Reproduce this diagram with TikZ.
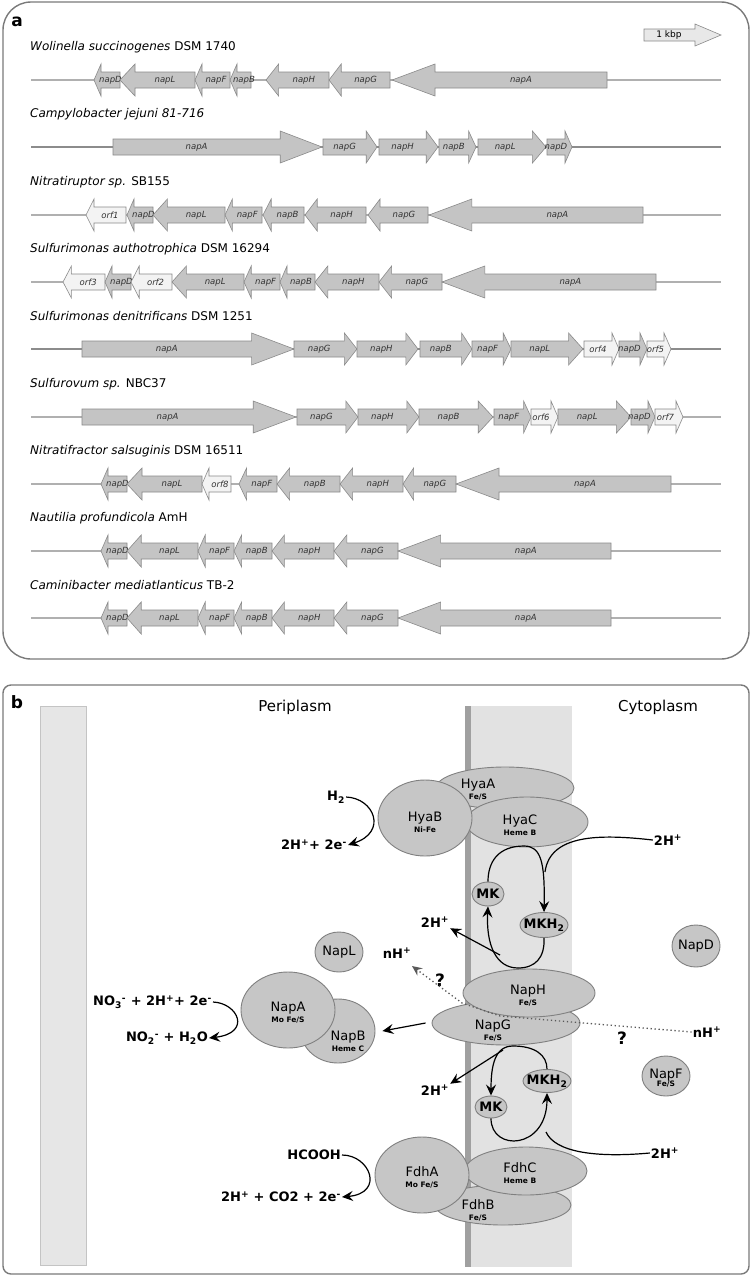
\documentclass[tikz,border=0pt]{standalone}
\usepackage{fontspec}
\setmainfont{DejaVu Sans}
\usetikzlibrary{arrows.meta,shapes.geometric}
\definecolor{panelgray}{HTML}{7A7A7A}
\definecolor{trackgray}{HTML}{B0B0B0}
\definecolor{trackdark}{HTML}{8C8C8C}
\definecolor{genefill}{HTML}{C4C4C4}
\definecolor{orffill}{HTML}{F3F3F3}
\definecolor{genedraw}{HTML}{8A8A8A}
\definecolor{labgray}{HTML}{333333}
\definecolor{scalefill}{HTML}{E8E8E8}
\definecolor{protfill}{HTML}{C6C6C6}
\definecolor{protdraw}{HTML}{808080}
\definecolor{outerband}{HTML}{E6E6E6}
\definecolor{outerline}{HTML}{C4C4C4}
\definecolor{bandlight}{HTML}{E2E2E2}
\definecolor{banddark}{HTML}{A0A0A0}
\newcommand\protsub[1]{{\fontsize{7.5}{8}\selectfont\bfseries #1}}
\newcommand\drawgene[7]{%
  \pgfmathsetmacro\gh{max(0.2*(#2-#1),7)}%
  \ifnum#4=1
    \pgfmathsetmacro\gb{#2-\gh}%
    \pgfmathsetmacro\gc{(#1+\gb)/2}%
    \filldraw[genebox,fill=#6] (#1,#3-8) -- (\gb,#3-8) -- (\gb,#3-16) -- (#2,#3) -- (\gb,#3+16) -- (\gb,#3+8) -- (#1,#3+8) -- cycle;
  \else
    \pgfmathsetmacro\gb{#1+\gh}%
    \pgfmathsetmacro\gc{(#2+\gb)/2}%
    \filldraw[genebox,fill=#6] (#2,#3-8) -- (\gb,#3-8) -- (\gb,#3-16) -- (#1,#3) -- (\gb,#3+16) -- (\gb,#3+8) -- (#2,#3+8) -- cycle;
  \fi
  \node[genelab] (#7-#5) at (\gc,#3) {#5};}
\newcommand\generow[4]{%
  \draw[track,draw=#3] (31,#2) -- (721,#2);
  \foreach \a/\b/\d/\l/\f in {#4} {\drawgene{\a}{\b}{#2}{\d}{\l}{\f}{#1}}}
\begin{document}
\begin{tikzpicture}[x=1pt,y=-1pt,
  panelline/.style={draw=panelgray,line width=1.4pt},
  plabel/.style={font=\bfseries\fontsize{17}{17}\selectfont,inner sep=0pt},
  track/.style={line width=1.5pt},
  genebox/.style={draw=genedraw,line width=0.6pt},
  genelab/.style={font=\itshape\fontsize{8.5}{8.5}\selectfont,text=labgray,inner sep=0pt},
  species/.style={font=\fontsize{12}{12}\selectfont,anchor=west,inner sep=0pt},
  prot/.style={ellipse,fill=protfill,draw=protdraw,line width=0.9pt,inner sep=0pt},
  ptext/.style={align=center,font=\fontsize{13}{12}\selectfont,inner sep=0pt},
  mktext/.style={font=\bfseries\fontsize{13}{13}\selectfont,inner sep=0pt},
  rtext/.style={font=\bfseries\fontsize{13}{13}\selectfont,inner sep=1pt},
  qtext/.style={font=\bfseries\fontsize{17}{17}\selectfont,inner sep=0pt},
  region/.style={font=\fontsize{15}{15}\selectfont,inner sep=0pt},
  conn/.style={draw=black,line width=1.2pt},
  arr/.style={conn,-{Stealth[length=11pt,width=10pt,inset=4pt]}},
  dots/.style={draw=black!65,line width=1.3pt,dash pattern=on 1.3pt off 2.7pt},
]
\useasboundingbox (0,0) rectangle (752,1278);
\fill[white] (0,0) rectangle (752,1278);

% ---------------- panel a ----------------
\draw[panelline,rounded corners=28pt] (3,2) rectangle (749,659);
\node[plabel] (la) at (17,22) {a};
\filldraw[fill=scalefill,draw=genedraw,line width=0.6pt] (644,29) -- (695,29) -- (695,24) -- (721,35) -- (695,46) -- (695,41) -- (644,41) -- cycle;
\node[font=\fontsize{9}{9}\selectfont,inner sep=0pt] (kbp) at (669,35) {1 kbp};

\node[species] (t1) at (30,47) {\textit{Wolinella succinogenes} DSM 1740};
\generow{r1}{80}{trackgray}{94/120/0/napD/genefill, 120/195/0/napL/genefill, 195/230/0/napF/genefill, 230/251/0/napB/genefill, 266/329/0/napH/genefill, 329/390/0/napG/genefill, 392/607/0/napA/genefill}

\node[species] (t2) at (30,114) {\textit{Campylobacter jejuni 81-716}};
\generow{r2}{147}{trackdark}{113/322/1/napA/genefill, 323/377/1/napG/genefill, 379/438/1/napH/genefill, 439/476/1/napB/genefill, 478/546/1/napL/genefill, 547/572/1/napD/genefill}

\node[species] (t3) at (30,182) {\textit{Nitratiruptor sp.} SB155};
\generow{r3}{215}{trackgray}{86/126/0/orf1/orffill, 127/153/0/napD/genefill, 153/225/0/napL/genefill, 225/262/0/napF/genefill, 263/304/0/napB/genefill, 305/366/0/napH/genefill, 368/428/0/napG/genefill, 429/643/0/napA/genefill}

\node[species] (t4) at (30,249) {\textit{Sulfurimonas authotrophica} DSM 16294};
\generow{r4}{282}{trackgray}{63/105/0/orf3/orffill, 105/131/0/napD/genefill, 131/172/0/orf2/orffill, 172/244/0/napL/genefill, 244/280/0/napF/genefill, 280/315/0/napB/genefill, 315/379/0/napH/genefill, 379/442/0/napG/genefill, 442/656/0/napA/genefill}

\node[species] (t5) at (30,316) {\textit{Sulfurimonas denitrificans} DSM 1251};
\generow{r5}{349}{trackdark}{82/294/1/napA/genefill, 294/357/1/napG/genefill, 357/418/1/napH/genefill, 420/472/1/napB/genefill, 472/511/1/napF/genefill, 511/583/1/napL/genefill, 584/619/1/orf4/orffill, 619/647/1/napD/genefill, 647/671/1/orf5/orffill}

\node[species] (t6) at (30,384) {\textit{Sulfurovum sp.} NBC37};
\generow{r6}{417}{trackgray}{82/296/1/napA/genefill, 297/358/1/napG/genefill, 358/419/1/napH/genefill, 419/493/1/napB/genefill, 494/531/1/napF/genefill, 531/558/1/orf6/orffill, 558/631/1/napL/genefill, 631/655/1/napD/genefill, 655/683/1/orf7/orffill}

\node[species] (t7) at (30,451) {\textit{Nitratifractor salsuginis} DSM 16511};
\generow{r7}{484}{trackgray}{101/127/0/napD/genefill, 127/202/0/napL/genefill, 202/231/0/orf8/orffill, 239/277/0/napF/genefill, 277/340/0/napB/genefill, 340/403/0/napH/genefill, 403/456/0/napG/genefill, 456/671/0/napA/genefill}

\node[species] (t8) at (30,518) {\textit{Nautilia profundicola} AmH};
\generow{r8}{551}{trackgray}{101/127/0/napD/genefill, 127/198/0/napL/genefill, 198/234/0/napF/genefill, 234/272/0/napB/genefill, 272/334/0/napH/genefill, 334/398/0/napG/genefill, 398/611/0/napA/genefill}

\node[species] (t9) at (30,585) {\textit{Caminibacter mediatlanticus} TB-2};
\generow{r9}{618}{trackgray}{101/127/0/napD/genefill, 127/198/0/napL/genefill, 198/234/0/napF/genefill, 234/272/0/napB/genefill, 272/334/0/napH/genefill, 334/398/0/napG/genefill, 398/611/0/napA/genefill}

% ---------------- panel b ----------------
\draw[panelline,rounded corners=8pt] (3,685) rectangle (749,1274);
\node[plabel] (lb) at (17,702) {b};
\filldraw[fill=outerband,draw=outerline,line width=0.8pt] (40,706) rectangle (86,1265);
\fill[bandlight] (471,706) rectangle (572,1267);
\fill[banddark] (465,706) rectangle (471,1267);
\node[region] (peri) at (295,707) {Periplasm};
\node[region] (cyto) at (658,707) {Cytoplasm};

% hydrogenase
\node[prot,minimum width=138,minimum height=42] (hyaa) at (505,788) {};
\node[prot,minimum width=122,minimum height=50] (hyac) at (527,822) {};
\node[prot,minimum width=94,minimum height=76] (hyab) at (425,818) {};
\node[ptext] (hyaa-t) at (478,790) {HyaA\\[-1pt]\protsub{Fe/S}};
\node[ptext] (hyac-t) at (520,825) {HyaC\\[-1pt]\protsub{Heme B}};
\node[ptext] (hyab-t) at (425,822) {HyaB\\[-1pt]\protsub{Ni-Fe}};

% upper quinone pool
\node[prot,minimum width=32,minimum height=24] (mk1) at (488,894) {};
\node[mktext] (mk1-t) at (mk1) {MK};
\node[prot,minimum width=48,minimum height=25] (mkh1) at (544,925) {};
\node[mktext] (mkh1-t) at (mkh1) {MKH\textsubscript{2}};

% periplasmic / cytoplasmic small proteins
\node[prot,minimum width=48,minimum height=40] (napl) at (339,952) {};
\node[ptext] (napl-t) at (napl) {NapL};
\node[prot,minimum width=48,minimum height=42] (napd) at (696,946) {};
\node[ptext] (napd-t) at (napd) {NapD};
\node[prot,minimum width=48,minimum height=40] (napf) at (666,1076) {};
\node[ptext] (napf-t) at (666,1078) {NapF\\[-4pt]\protsub{Fe/S}};

% NapGH
\node[prot,minimum width=148,minimum height=44] (napg) at (506,1023) {};
\node[prot,minimum width=132,minimum height=48] (naph) at (529,993) {};
\node[ptext] (naph-t) at (528,996) {NapH\\[-1pt]\protsub{Fe/S}};
\node[ptext] (napg-t) at (493,1031) {NapG\\[-1pt]\protsub{Fe/S}};

% NapAB
\node[prot,minimum width=74,minimum height=64] (napb) at (338,1031) {};
\node[prot,minimum width=94,minimum height=76] (napa) at (288,1010) {};
\node[ptext] (napa-t) at (288,1013) {NapA\\[-1pt]\protsub{Mo Fe/S}};
\node[ptext] (napb-t) at (348,1041) {NapB\\[-1pt]\protsub{Heme C}};

% lower quinone pool
\node[prot,minimum width=48,minimum height=23] (mkh2) at (547,1081) {};
\node[mktext] (mkh2-t) at (mkh2) {MKH\textsubscript{2}};
\node[prot,minimum width=32,minimum height=22] (mk2) at (491,1107) {};
\node[mktext] (mk2-t) at (mk2) {MK};

% formate dehydrogenase
\node[prot,minimum width=136,minimum height=40] (fdhb) at (503,1205) {};
\node[prot,minimum width=122,minimum height=48] (fdhc) at (526,1171) {};
\node[prot,minimum width=94,minimum height=76] (fdha) at (422,1175) {};
\node[ptext] (fdha-t) at (422,1177) {FdhA\\[-1pt]\protsub{Mo Fe/S}};
\node[ptext] (fdhc-t) at (520,1173) {FdhC\\[-1pt]\protsub{Heme B}};
\node[ptext] (fdhb-t) at (478,1210) {FdhB\\[-1pt]\protsub{Fe/S}};

% reaction labels
\node[rtext] (h2) at (336,797) {H\textsubscript{2}};
\node[rtext,anchor=east] (e2a) at (348,845) {2H\textsuperscript{+}+ 2e\textsuperscript{-}};
\node[rtext] (p2r) at (668,840) {2H\textsuperscript{+}};
\node[rtext] (p2ul) at (435,922) {2H\textsuperscript{+}};
\node[rtext] (nhl) at (397,953) {nH\textsuperscript{+}};
\node[qtext] (ql) at (440,980) {?};
\node[rtext] (nhr) at (707,1032) {nH\textsuperscript{+}};
\node[qtext] (qr) at (622,1038) {?};
\node[rtext,anchor=east] (no3) at (213,1002) {NO\textsubscript{3}\textsuperscript{-} + 2H\textsuperscript{+}+ 2e\textsuperscript{-}};
\node[rtext,anchor=east] (no2) at (209,1038) {NO\textsubscript{2}\textsuperscript{-} + H\textsubscript{2}O};
\node[rtext] (p2ll) at (435,1090) {2H\textsuperscript{+}};
\node[rtext] (p2lr) at (665,1153) {2H\textsuperscript{+}};
\node[rtext,anchor=east] (hcooh) at (342,1155) {HCOOH};
\node[rtext,anchor=east] (co2) at (342,1197) {2H\textsuperscript{+} + CO2 + 2e\textsuperscript{-}};

% connectors
\draw[arr] (h2.east) .. controls (374,798) and (388,832) .. (e2a.east);
\draw[arr] (no3.east) .. controls (238,1003) and (252,1033) .. (no2.east);
\draw[arr] (hcooh.east) .. controls (370,1155) and (385,1193) .. (co2.east);

\coordinate (ult) at (524,846);
\coordinate (ulb) at (518,968);
\coordinate (ula) at (500,955);
\draw[conn] (ult) .. controls (498,846) and (488,862) .. (mk1.north);
\draw[arr] (ult) .. controls (541,846) and (545,862) .. (mkh1.north);
\draw[conn] (p2r.west) .. controls (600,834) and (550,834) .. (545,872);
\draw[conn] (mkh1.south) .. controls (545,958) and (535,968) .. (ulb);
\draw[arr] (ulb) .. controls (496,968) and (486,945) .. (mk1.south);
\draw[arr] (ula) -- (p2ul.south east);

\coordinate (llt) at (513,1046);
\coordinate (lla) at (503,1050);
\draw[arr] (llt) .. controls (495,1046) and (491,1065) .. (mk2.north);
\draw[conn] (llt) .. controls (535,1046) and (547,1055) .. (mkh2.north);
\draw[arr] (mk2.south) .. controls (491,1152) and (547,1150) .. (mkh2.south);
\draw[conn] (p2lr.west) .. controls (595,1158) and (555,1152) .. (546,1132);
\draw[arr] (lla) -- (p2ll.north east);

\draw[arr] ([xshift=-6pt]napg.west) -- ([xshift=7pt]napb.east);

\coordinate (d1) at (500,1016);
\coordinate (d2) at (462,1003);
\coordinate (dtip) at (412,966);
\draw[dots,-{Stealth[length=10pt,width=9pt,inset=3.5pt]}] (nhr.west) -- (d1) -- (d2) -- (dtip);
\end{tikzpicture}
\end{document}
